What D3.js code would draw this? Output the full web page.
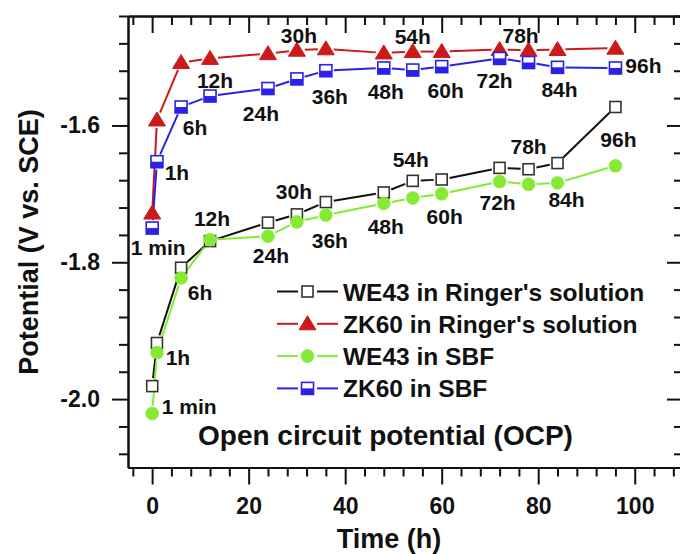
<!DOCTYPE html>
<html>
<head>
<meta charset="utf-8">
<script src="https://cdn.jsdelivr.net/npm/d3@7"></script>
<style>
  html, body { margin: 0; padding: 0; background: #fff; }
  svg { display: block; font-family: "Liberation Sans", Arial, sans-serif; font-weight: bold; }
</style>
</head>
<body>
<svg id="chart" width="680" height="554"></svg>
<script>
// Sampling times (h) and their labels
const times = [1 / 60, 1, 6, 12, 24, 30, 36, 48, 54, 60, 72, 78, 84, 96];
const timeLabels = ["1 min", "1h", "6h", "12h", "24h", "30h", "36h", "48h", "54h", "60h", "72h", "78h", "84h", "96h"];

// Open circuit potential, V vs. SCE
const we43Ringer = [-1.981, -1.918, -1.808, -1.769, -1.742, -1.730, -1.712, -1.698, -1.681, -1.679, -1.662, -1.664, -1.655, -1.573];
const zk60Ringer = [-1.728, -1.592, -1.508, -1.502, -1.495, -1.490, -1.488, -1.494, -1.492, -1.492, -1.489, -1.490, -1.489, -1.487];
const we43SBF    = [-2.021, -1.932, -1.823, -1.767, -1.762, -1.741, -1.731, -1.714, -1.706, -1.700, -1.682, -1.686, -1.684, -1.659];
const zk60SBF    = [-1.750, -1.653, -1.573, -1.557, -1.546, -1.532, -1.520, -1.516, -1.519, -1.514, -1.502, -1.508, -1.515, -1.516];

const seriesNames = ["WE43 in Ringer's solution", "ZK60 in Ringer's solution", "WE43 in SBF", "ZK60 in SBF"];

// Axis ticks
const xMajorTicks = [0, 20, 40, 60, 80, 100];
const yMajorTicks = [-2.0, -1.8, -1.6];

const svg = d3.select("#chart");
const W = 680, H = 554;
const plot = { left: 128, right: 683, top: 16, bottom: 467.5 };

const x = d3.scaleLinear().domain([-5, 110]).range([plot.left, plot.right]);
const y = d3.scaleLinear().domain([-2.10, -1.44]).range([plot.bottom, plot.top]);

const xMinor = d3.range(-4, 110, 4).filter(v => v % 20 !== 0);
const yMinor = d3.range(-2.08, -1.44, 0.04).map(v => +v.toFixed(2))
  .filter(v => Math.abs(v / 0.2 - Math.round(v / 0.2)) > 1e-6);

const series = [
  { name: seriesNames[0], values: we43Ringer, color: "#111111", marker: "openSquare", z: 0 },
  { name: seriesNames[1], values: zk60Ringer, color: "#cc1a1a", marker: "triangle", z: 1 },
  { name: seriesNames[2], values: we43SBF,    color: "#84ea34", marker: "circle", z: 2 },
  { name: seriesNames[3], values: zk60SBF,    color: "#2a22e6", marker: "halfSquare", z: 3 }
];

const tickFont = 23;
const fmtY = d => d.toFixed(1);

// ---- axes (frame drawn by the axis domains) ----
function styleAxis(g) {
  g.selectAll("path.domain").attr("stroke", "#111").attr("stroke-width", 2);
  g.selectAll(".tick line").attr("stroke", "#111").attr("stroke-width", 2);
  g.selectAll(".tick text").attr("fill", "#111").attr("font-size", tickFont)
    .attr("font-family", "'Liberation Sans', Arial, sans-serif").attr("font-weight", "bold");
}

// bottom
svg.append("g").attr("transform", `translate(0,${plot.bottom})`)
  .call(d3.axisBottom(x).tickValues(xMinor).tickSize(9).tickSizeOuter(0).tickFormat(""))
  .call(styleAxis);
svg.append("g").attr("transform", `translate(0,${plot.bottom})`)
  .call(d3.axisBottom(x).tickValues(xMajorTicks).tickSize(17).tickSizeOuter(0).tickPadding(13).tickFormat(d3.format("d")))
  .call(styleAxis);
// top (ticks inward)
svg.append("g").attr("transform", `translate(0,${plot.top})`)
  .call(d3.axisTop(x).tickValues(xMinor).tickSize(-9).tickSizeOuter(0).tickFormat(""))
  .call(styleAxis);
svg.append("g").attr("transform", `translate(0,${plot.top})`)
  .call(d3.axisTop(x).tickValues(xMajorTicks).tickSize(-17).tickSizeOuter(0).tickFormat(""))
  .call(styleAxis);
// left
svg.append("g").attr("transform", `translate(${plot.left},0)`)
  .call(d3.axisLeft(y).tickValues(yMinor).tickSize(9).tickSizeOuter(0).tickFormat(""))
  .call(styleAxis);
svg.append("g").attr("transform", `translate(${plot.left},0)`)
  .call(d3.axisLeft(y).tickValues(yMajorTicks).tickSize(16).tickSizeOuter(0).tickPadding(12).tickFormat(fmtY))
  .call(styleAxis);
// right (ticks inward)
svg.append("g").attr("transform", `translate(${plot.right},0)`)
  .call(d3.axisRight(y).tickValues(yMinor).tickSize(-9).tickSizeOuter(0).tickFormat(""))
  .call(styleAxis);
svg.append("g").attr("transform", `translate(${plot.right},0)`)
  .call(d3.axisRight(y).tickValues(yMajorTicks).tickSize(-16).tickSizeOuter(0).tickFormat(""))
  .call(styleAxis);

// axis titles
svg.append("text")
  .attr("x", 389).attr("y", 548)
  .attr("text-anchor", "middle").attr("font-size", 27).attr("fill", "#111")
  .text("Time (h)");
svg.append("text")
  .attr("transform", "translate(38,242) rotate(-90)")
  .attr("text-anchor", "middle").attr("font-size", 27).attr("fill", "#111")
  .text("Potential (V vs. SCE)");

// ---- markers ----
function drawMarker(g, kind, cx, cy, color) {
  if (kind === "openSquare") {
    g.append("rect").attr("x", cx - 5.5).attr("y", cy - 5.5).attr("width", 11).attr("height", 11)
      .attr("fill", "#fff").attr("stroke", "#333").attr("stroke-width", 1.6);
  } else if (kind === "triangle") {
    g.append("path")
      .attr("d", `M${cx},${cy - 8} L${cx + 8.5},${cy + 6} L${cx - 8.5},${cy + 6} Z`)
      .attr("fill", color).attr("stroke", color).attr("stroke-width", 1);
  } else if (kind === "circle") {
    g.append("circle").attr("cx", cx).attr("cy", cy).attr("r", 6.5)
      .attr("fill", color).attr("stroke", color).attr("stroke-width", 0.5);
  } else if (kind === "halfSquare") {
    g.append("rect").attr("x", cx - 6).attr("y", cy - 6).attr("width", 12).attr("height", 12)
      .attr("fill", "#fff").attr("stroke", color).attr("stroke-width", 1.6);
    g.append("rect").attr("x", cx - 6).attr("y", cy).attr("width", 12).attr("height", 6)
      .attr("fill", color);
  }
}

// line segments stop short of the markers
function gappedSegments(pts, gap) {
  const out = [];
  for (let i = 0; i < pts.length - 1; i++) {
    const [x0, y0] = pts[i], [x1, y1] = pts[i + 1];
    const dx = x1 - x0, dy = y1 - y0, len = Math.hypot(dx, dy);
    if (len <= 2 * gap + 1) continue;
    const ux = dx / len, uy = dy / len;
    out.push([x0 + ux * gap, y0 + uy * gap, x1 - ux * gap, y1 - uy * gap]);
  }
  return out;
}

const dataLayer = svg.append("g");
series.forEach(s => {
  const pts = times.map((t, i) => [x(t), y(s.values[i])]);
  const g = dataLayer.append("g");
  g.selectAll("line").data(gappedSegments(pts, 8)).join("line")
    .attr("x1", d => d[0]).attr("y1", d => d[1]).attr("x2", d => d[2]).attr("y2", d => d[3])
    .attr("stroke", s.color).attr("stroke-width", 2);
  s.pts = pts;
});
series.forEach(s => {
  const g = dataLayer.append("g");
  s.pts.forEach(p => drawMarker(g, s.marker, p[0], p[1], s.color));
});

// ---- time annotations: [series index, dx, dy] relative to the labelled point ----
const upperLabelPlacement = [
  [3, 6, 19], [3, 20, 11], [3, 14, 21], [3, 5, -16], [3, -7, 25], [1, 2, -15], [3, 4, 26],
  [3, 2, 24], [1, 0, -15], [3, 4, 24], [3, -5, 22], [1, -8, -15], [3, 2, 22], [3, 28, -2]
];
const lowerLabelPlacement = [
  [2, 37, -7], [2, 21, 5], [2, 19, 14], [0, 2, -23], [2, 3, 19], [0, -3, -23], [2, 4, 25],
  [2, 2, 23], [0, -2, -21], [2, 3, 23], [2, -2, 21], [0, 0, -23], [2, 9, 17], [0, 3, 33]
];
const annot = svg.append("g").attr("font-size", 21).attr("fill", "#111").attr("text-anchor", "middle");
[upperLabelPlacement, lowerLabelPlacement].forEach(placement => {
  placement.forEach((pl, i) => {
    const p = series[pl[0]].pts[i];
    annot.append("text")
      .attr("x", p[0] + pl[1]).attr("y", p[1] + pl[2] + 7.5)
      .text(timeLabels[i]);
  });
});

// ---- legend ----
const legend = svg.append("g");
series.forEach((s, i) => {
  const cy = 291.5 + i * 32.3;
  const g = legend.append("g");
  g.append("line").attr("x1", 277).attr("x2", 298).attr("y1", cy).attr("y2", cy)
    .attr("stroke", s.color).attr("stroke-width", 2);
  g.append("line").attr("x1", 317).attr("x2", 338).attr("y1", cy).attr("y2", cy)
    .attr("stroke", s.color).attr("stroke-width", 2);
  drawMarker(g, s.marker, 307.5, cy, s.color);
  g.append("text").attr("x", 343).attr("y", cy + 9).attr("font-size", 24.5).attr("fill", "#111")
    .text(s.name);
});

// caption inside the plot
svg.append("text")
  .attr("x", 198).attr("y", 445)
  .attr("font-size", 28).attr("fill", "#111")
  .text("Open circuit potential (OCP)");
</script>
</body>
</html>
